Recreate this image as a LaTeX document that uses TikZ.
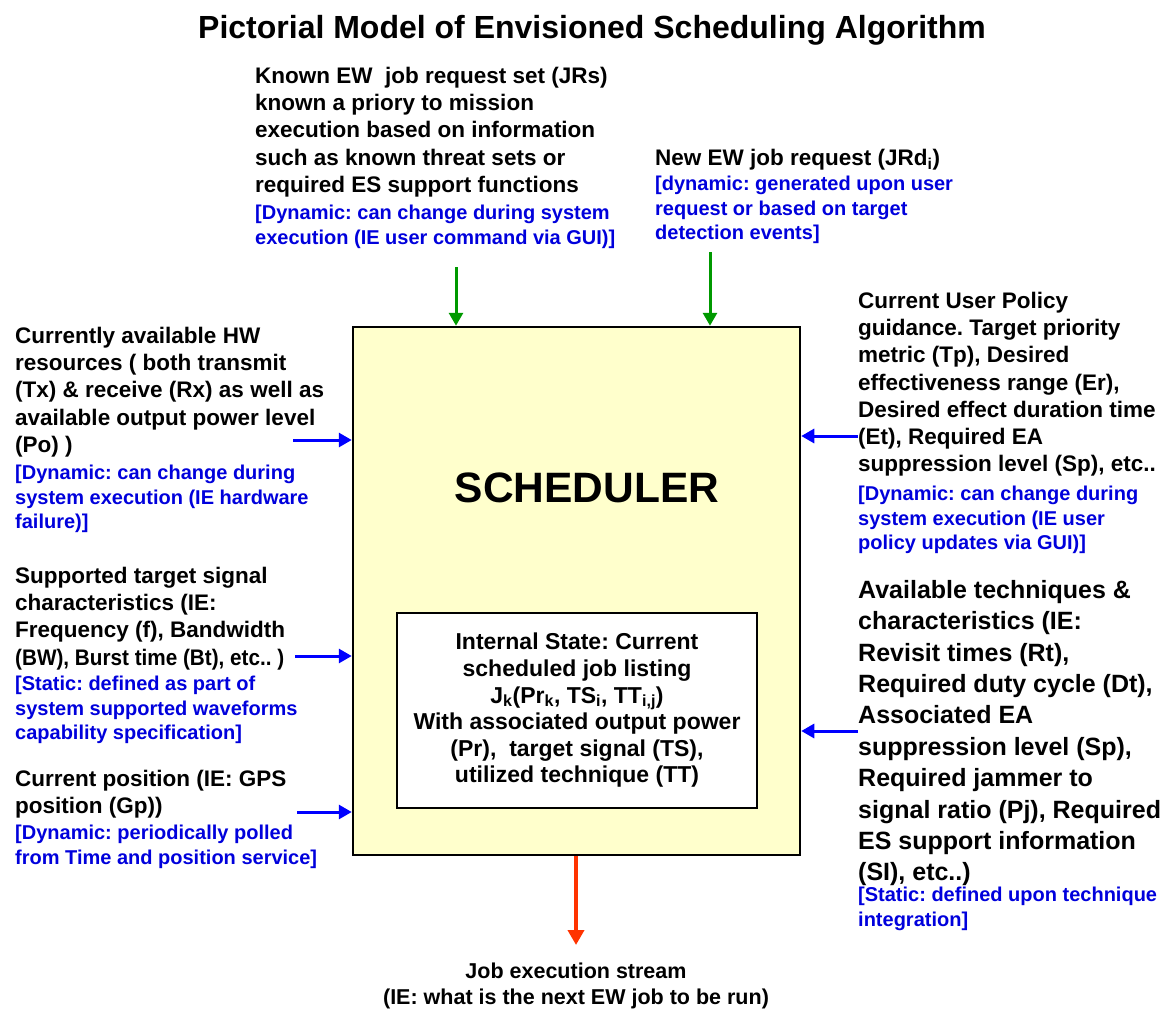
\documentclass[tikz,border=0pt]{standalone}
\usepackage{fontspec}
\setmainfont{Liberation Sans}
\usetikzlibrary{positioning}
\usetikzlibrary{arrows.meta}
\frenchspacing
\definecolor{boxyellow}{RGB}{255,255,204}
\definecolor{arrgreen}{RGB}{0,153,0}
\definecolor{arrblue}{RGB}{0,0,255}
\definecolor{arrred}{RGB}{255,51,0}
\definecolor{noteblue}{RGB}{0,0,220}
\tikzset{
    blk/.style = {anchor=north west, inner sep=0pt, align=left, font=\fontsize{22.5}{27.2}\selectfont\bfseries},
    blkbig/.style = {anchor=north west, inner sep=0pt, align=left, font=\fontsize{25}{31.4}\selectfont\bfseries},
    blu/.style = {anchor=north west, inner sep=0pt, align=left, text=noteblue, font=\fontsize{20}{24.4}\selectfont\bfseries},
    schedbox/.style = {rectangle, draw=black, line width=2.5pt, fill=boxyellow, minimum width=447pt, minimum height=528pt},
    statebox/.style = {rectangle, draw=black, line width=1.8pt, fill=white, align=center, minimum width=360pt, minimum height=195pt, font=\fontsize{23}{26.6}\selectfont\bfseries},
    edgeg/.style = {-{Triangle[length=13pt,width=14pt]}, line width=3pt, arrgreen},
    edgeb/.style = {-{Triangle[length=13pt,width=14pt]}, line width=3pt, arrblue},
    edger/.style = {-{Triangle[length=15pt,width=16pt]}, line width=4.5pt, arrred}
}

\begin{document}
\begin{tikzpicture}[x=1pt, y=-1pt]
\useasboundingbox (0,0) rectangle (1173,1015);
\node[anchor=north, inner sep=0pt, font=\fontsize{32}{38}\selectfont\bfseries] at (592,15) (title) {Pictorial Model of Envisioned Scheduling Algorithm};

\node[schedbox] at (576.5,591) (sched) {};
\node[font=\fontsize{42.5}{50}\selectfont\bfseries] at (587,488) (schedname) {SCHEDULER};
\node[statebox] at (577,710.5) (state) {Internal State: Current\\ scheduled job listing\\ J\textsubscript{k}(Pr\textsubscript{k}, TS\textsubscript{i}, TT\textsubscript{i,j})\\ With associated output power\\ (Pr),\ \ target signal (TS),\\ utilized technique (TT)};

% top inputs
\node[blk] at (255,67) (jrs) {Known EW\ \ job request set (JRs)\\ known a priory to mission\\ execution based on information\\ such as known threat sets or\\ required ES support functions};
\node[blu] at (255,205) (jrsnote) {[Dynamic: can change during system\\ execution (IE user command via GUI)]};
\node[blk] at (655,149) (jrd) {New EW job request (JRd\textsubscript{i})};
\node[blu] at (655,176) (jrdnote) {[dynamic: generated upon user\\ request or based on target\\ detection events]};

% left inputs
\node[blk] at (15,327) (hw) {Currently available HW\\ resources ( both transmit\\ (Tx) \& receive (Rx) as well as\\ available output power level\\ (Po) )};
\node[blu] at (15,465) (hwnote) {[Dynamic: can change during\\ system execution (IE hardware\\ failure)]};
\node[blk] at (15,567) (sig) {Supported target signal\\ characteristics (IE:\\ Frequency (f), Bandwidth\\ \scalebox{0.92}[1]{(BW), Burst time (Bt), etc.. )}};
\node[blu] at (15,676) (signote) {[Static: defined as part of\\ system supported waveforms\\ capability specification]};
\node[blk] at (15,770) (pos) {Current position (IE: GPS\\ position (Gp))};
\node[blu] at (15,825) (posnote) {[Dynamic: periodically polled\\ from Time and position service]};

% right inputs
\node[blk] at (858,292) (policy) {Current User Policy\\ guidance. Target priority\\ metric (Tp), Desired\\ effectiveness range (Er),\\ Desired effect duration time\\ (Et), Required EA\\ suppression level (Sp), etc..};
\node[blu] at (858,486) (policynote) {[Dynamic: can change during\\ system execution (IE user\\ policy updates via GUI)]};
\node[blkbig] at (858,580) (tech) {Available techniques \&\\ characteristics (IE:\\ Revisit times (Rt),\\ Required duty cycle (Dt),\\ Associated EA\\ suppression level (Sp),\\ Required jammer to\\ signal ratio (Pj), Required\\ ES support information\\ (SI), etc..)};
\node[blu] at (858,887) (technote) {[Static: defined upon technique\\ integration]};

% output
\node[anchor=north, inner sep=0pt, align=center, font=\fontsize{21.5}{26}\selectfont\bfseries] at (576,963) (out) {Job execution stream\\ (IE: what is the next EW job to be run)};

\coordinate (jrsin) at (456,267);
\coordinate (jrdin) at (710,252);
\coordinate (hwin) at (293,440);
\coordinate (sigin) at (295,656);
\coordinate (posin) at (297,812);
\coordinate (policyin) at (858,436);
\coordinate (techin) at (858,731);
\coordinate (outend) at (576,945);
%
\draw[edgeg] (jrsin) -- (jrsin |- sched.north);
\draw[edgeg] (jrdin) -- (jrdin |- sched.north);
\draw[edgeb] (hwin) -- (hwin -| sched.west);
\draw[edgeb] (sigin) -- (sigin -| sched.west);
\draw[edgeb] (posin) -- (posin -| sched.west);
\draw[edgeb] (policyin) -- (policyin -| sched.east);
\draw[edgeb] (techin) -- (techin -| sched.east);
\draw[edger] (outend |- sched.south) -- (outend);

\end{tikzpicture}
\end{document}
